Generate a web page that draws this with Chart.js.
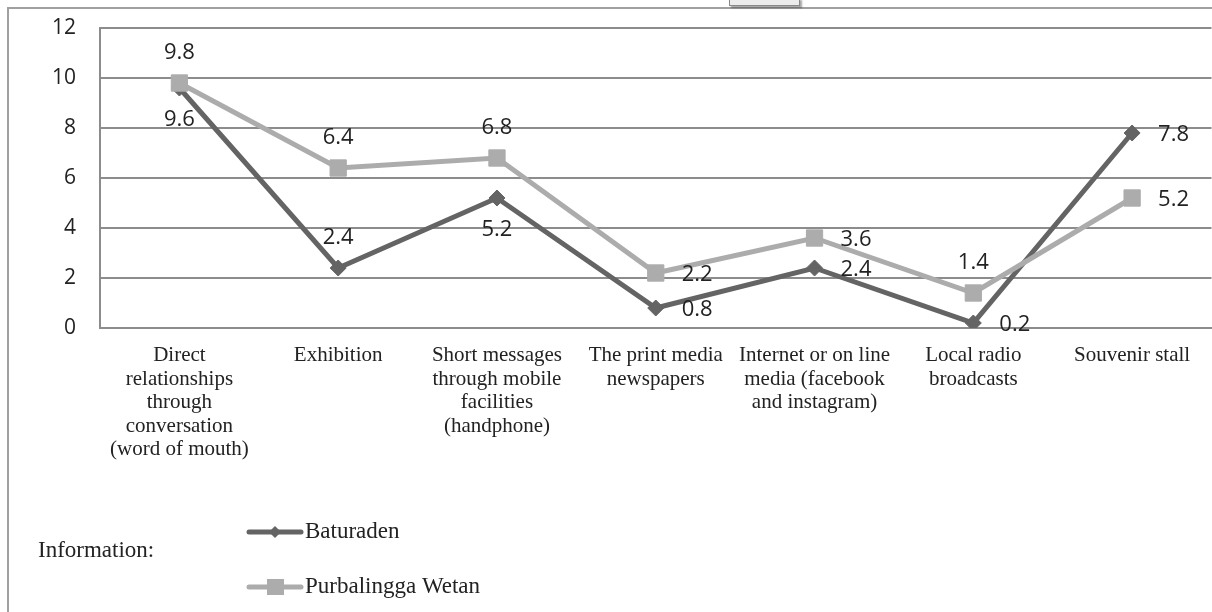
<!DOCTYPE html>
<html>
<head>
<meta charset="utf-8">
<script src="https://cdn.jsdelivr.net/npm/chart.js@4"></script>
<style>
  body { margin: 0; background: #fff; overflow: hidden; }
  #wrap { width: 1212px; height: 612px; position: relative; overflow: hidden; }
</style>
</head>
<body>
<div id="wrap"><canvas id="myChart" width="1224" height="612"></canvas></div>
<script>
const categories = [
    ['Direct', 'relationships', 'through', 'conversation', '(word of mouth)'],
    ['Exhibition'],
    ['Short messages', 'through mobile', 'facilities', '(handphone)'],
    ['The print media', 'newspapers'],
    ['Internet or on line', 'media (facebook', 'and instagram)'],
    ['Local radio', 'broadcasts'],
    ['Souvenir stall']
];
const baturaden = [9.6, 2.4, 5.2, 0.8, 2.4, 0.2, 7.8];
const purbalingga = [9.8, 6.4, 6.8, 2.2, 3.6, 1.4, 5.2];
const yTicks = [0, 2, 4, 6, 8, 10, 12];

// where each value label sits next to its point
const batLabelPos = ['below', 'above', 'below', 'right', 'right', 'right', 'right'];
const purbLabelPos = ['above', 'above', 'above', 'right', 'right', 'above', 'right'];

const DARK = '#646464', LIGHT = '#acacac', GRID = '#8c8c8c';
const SANS = '"Open Sans", sans-serif';
const SERIF = '"Liberation Serif", "Times New Roman", serif';

const ctx = document.getElementById('myChart').getContext('2d');

// outer frame and the little box at the top
const framePlugin = {
    id: 'frame',
    beforeDraw(chart) {
        const c = chart.ctx;
        c.save();
        c.fillStyle = '#fff';
        c.fillRect(0, 0, chart.width, chart.height);
        c.strokeStyle = '#a0a0a0';
        c.lineWidth = 2;
        c.beginPath();
        c.moveTo(8, chart.height);
        c.lineTo(8, 8);
        c.lineTo(chart.width, 8);
        c.stroke();
        c.shadowColor = 'rgba(0,0,0,0.35)';
        c.shadowOffsetX = 2;
        c.shadowOffsetY = 2;
        c.shadowBlur = 2;
        c.fillStyle = '#ececec';
        c.fillRect(729, -2, 71, 8);
        c.shadowColor = 'transparent';
        c.strokeStyle = '#888';
        c.lineWidth = 1;
        c.strokeRect(729.5, -2, 70, 7.5);
        c.restore();
    }
};

const labelPlugin = {
    id: 'valueLabels',
    afterDatasetsDraw(chart) {
        const c = chart.ctx;
        c.save();
        c.font = '22px ' + SANS;
        c.fillStyle = '#222';
        c.textBaseline = 'middle';
        const posSets = [batLabelPos, purbLabelPos];
        chart.data.datasets.forEach((ds, i) => {
            const meta = chart.getDatasetMeta(i);
            meta.data.forEach((pt, j) => {
                const txt = ds.data[j].toFixed(1);
                const pos = posSets[i][j];
                if (pos === 'above') {
                    c.textAlign = 'center';
                    c.fillText(txt, pt.x, pt.y - 30);
                } else if (pos === 'below') {
                    c.textAlign = 'center';
                    c.fillText(txt, pt.x, pt.y + 32);
                } else {
                    c.textAlign = 'left';
                    c.fillText(txt, pt.x + 26, pt.y + 2);
                }
            });
        });
        c.restore();
    }
};

// legend block at the bottom left
const legendPlugin = {
    id: 'infoLegend',
    afterDraw(chart) {
        const c = chart.ctx;
        c.save();
        c.font = '23px ' + SERIF;
        c.fillStyle = '#222';
        c.textBaseline = 'middle';
        c.textAlign = 'left';
        c.fillText('Information:', 38, 551);
        const rows = [532, 587];
        chart.data.datasets.forEach((ds, i) => {
            const y = rows[i];
            c.strokeStyle = ds.borderColor;
            c.lineWidth = 5;
            c.lineCap = 'round';
            c.beginPath();
            c.moveTo(249, y);
            c.lineTo(301, y);
            c.stroke();
            c.fillStyle = ds.borderColor;
            c.beginPath();
            if (ds.pointStyle === 'rectRot') {
                c.moveTo(275, y - 6); c.lineTo(281, y); c.lineTo(275, y + 6); c.lineTo(269, y);
            } else {
                c.rect(267, y - 8, 17, 16);
            }
            c.fill();
            c.fillStyle = '#222';
            c.fillText(ds.label, 305, y);
        });
        c.restore();
    }
};

new Chart(ctx, {
    type: 'line',
    data: {
        labels: categories,
        datasets: [{
            label: 'Baturaden',
            data: baturaden,
            borderColor: DARK,
            backgroundColor: DARK,
            borderWidth: 5,
            pointStyle: 'rectRot',
            pointRadius: 8,
            pointBorderWidth: 1,
            tension: 0,
            order: 1
        }, {
            label: 'Purbalingga Wetan',
            data: purbalingga,
            borderColor: LIGHT,
            backgroundColor: LIGHT,
            borderWidth: 5,
            pointStyle: 'rect',
            pointRadius: 11.5,
            pointBorderWidth: 1,
            tension: 0,
            order: 0
        }]
    },
    options: {
        responsive: false,
        animation: false,
        devicePixelRatio: 1,
        layout: { padding: { left: 0, top: 28, right: 0, bottom: 0 } },
        plugins: {
            legend: { display: false },
            tooltip: { enabled: false }
        },
        scales: {
            x: {
                offset: true,
                grid: { display: false, drawTicks: false },
                border: { display: true, color: GRID, width: 2 },
                ticks: {
                    autoSkip: false,
                    maxRotation: 0,
                    minRotation: 0,
                    padding: 16,
                    color: '#222',
                    font: { family: SERIF, size: 21, lineHeight: 1.12 }
                },
                afterFit(scale) {
                    scale.height = 284;
                    scale.paddingLeft = 0;
                    scale.paddingRight = 0;
                }
            },
            y: {
                min: 0,
                max: 12,
                afterBuildTicks(scale) { scale.ticks = yTicks.map(v => ({ value: v })); },
                grid: { color: GRID, lineWidth: 2, drawTicks: false },
                border: { display: true, color: GRID, width: 2 },
                ticks: {
                    padding: 24,
                    color: '#222',
                    font: { family: SANS, size: 21 }
                },
                afterFit(scale) {
                    scale.width = 100;
                    scale.paddingTop = 0;
                    scale.paddingBottom = 0;
                }
            }
        }
    },
    plugins: [framePlugin, labelPlugin, legendPlugin]
});
</script>
</body>
</html>
